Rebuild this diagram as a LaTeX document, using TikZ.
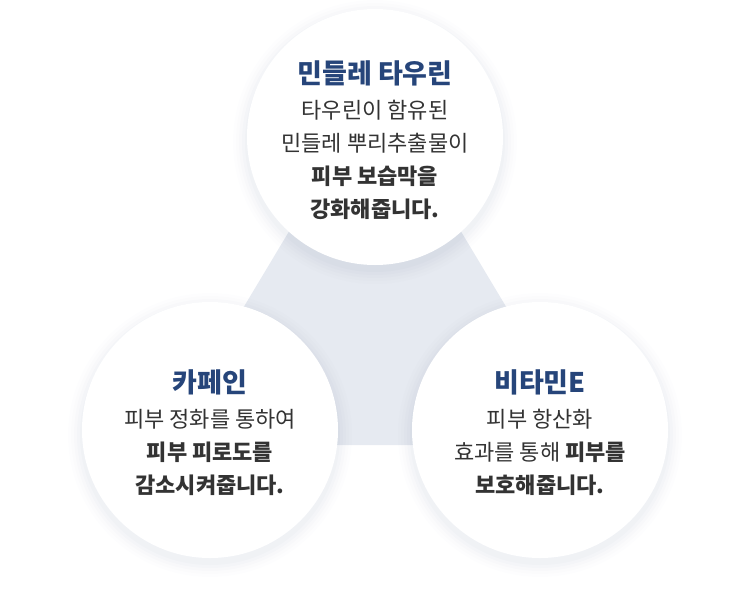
\documentclass[tikz,border=0pt]{standalone}
\usepackage{fontspec}
\setmainfont{Noto Sans CJK KR}
\definecolor{titleblue}{HTML}{26457A}
\definecolor{trifill}{HTML}{E6EAF1}
\definecolor{txtgray}{HTML}{333333}
\definecolor{shadowcol}{HTML}{8090B0}
\tikzset{
  bubble/.style={circle, fill=white, minimum size=256pt, inner sep=0pt},
  bubbletext/.style={align=center, font=\fontsize{22}{33}\selectfont, text=txtgray},
}
\newcommand{\btitle}[1]{{\fontsize{27}{36}\selectfont\bfseries\color{titleblue}#1}}
\begin{document}
\begin{tikzpicture}[x=1pt,y=-1pt]
  \useasboundingbox (0,0) rectangle (750,616);
  % Dreieck
  \fill[trifill] (375,88) -- (161,445) -- (589,445) -- cycle;
  \coordinate (ct) at (375,137);
  \coordinate (cl) at (210,430);
  \coordinate (cr) at (540,430);
  % Schatten
  \foreach \c in {ct,cl,cr}{
    \foreach \r/\o in {142/0.015,139/0.02,136/0.025,133/0.03,130/0.035}
      \fill[shadowcol, opacity=\o] ([yshift=-5pt]\c) circle (\r pt);
  }
  % Kreise
  \node[bubble] (top) at (ct) {};
  \node[bubble] (left) at (cl) {};
  \node[bubble] (right) at (cr) {};
  % Texte
  \node[bubbletext] (toptext) at ([yshift=-3pt]top) {\btitle{민들레 타우린}\\[2pt]
    타우린이 함유된\\민들레 뿌리추출물이\\\textbf{피부 보습막을}\\\textbf{강화해줍니다.}};
  \node[bubbletext] (lefttext) at ([yshift=-3pt]left) {\btitle{카페인}\\[2pt]
    피부 정화를 통하여\\\textbf{피부 피로도를}\\\textbf{감소시켜줍니다.}};
  \node[bubbletext] (righttext) at ([yshift=-3pt]right) {\btitle{비타민E}\\[2pt]
    피부 항산화\\효과를 통해 \textbf{피부를}\\\textbf{보호해줍니다.}};
\end{tikzpicture}
\end{document}
